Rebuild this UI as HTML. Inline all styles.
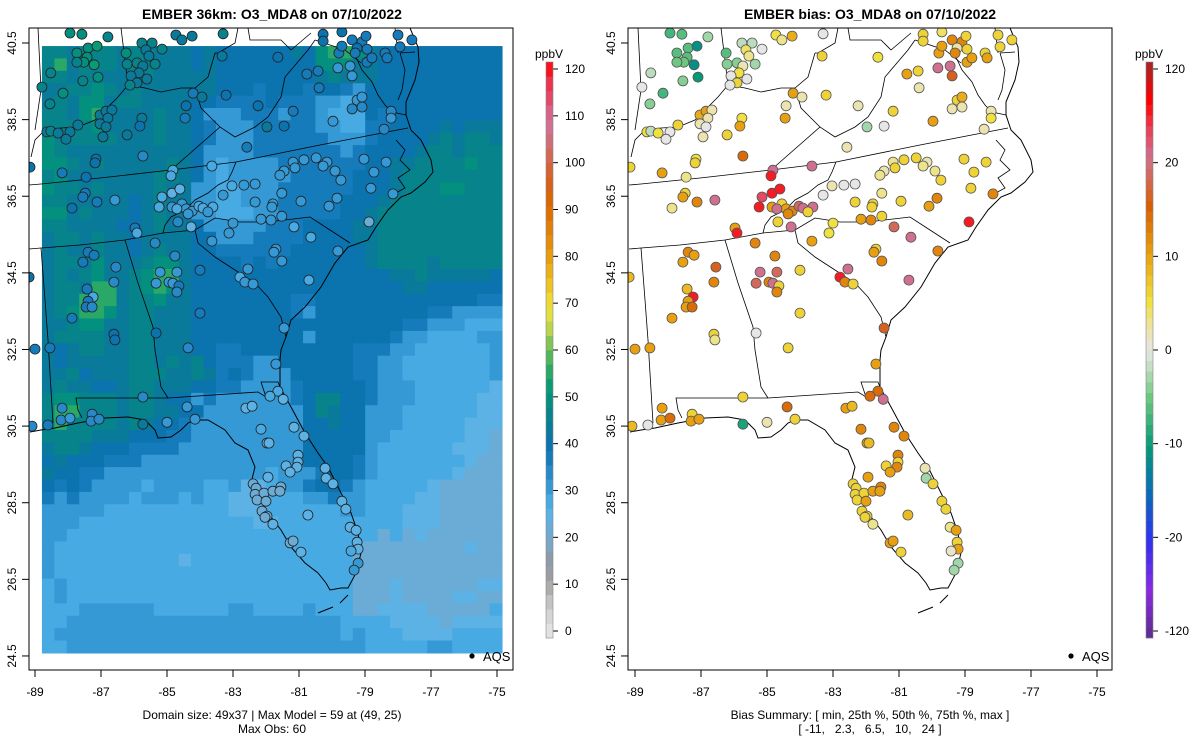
<!DOCTYPE html>
<html><head><meta charset="utf-8"><title>EMBER O3_MDA8 07/10/2022</title>
<style>
html,body{margin:0;padding:0;background:#fff;}
svg{display:block;font-family:"Liberation Sans",Arial,sans-serif;}
</style></head>
<body>
<svg id="fig" width="1200" height="750" viewBox="0 0 1200 750" xmlns="http://www.w3.org/2000/svg">
<defs>
<clipPath id="clipL"><rect x="29" y="28" width="484" height="642"/></clipPath>
<clipPath id="clipR"><rect x="628" y="28" width="484" height="642"/></clipPath>
</defs>
<text x="272" y="19" text-anchor="middle" font-size="14" font-weight="bold">EMBER 36km: O3_MDA8 on 07/10/2022</text>
<text x="870" y="19" text-anchor="middle" font-size="14" font-weight="bold">EMBER bias: O3_MDA8 on 07/10/2022</text>
<g id="left-raster" clip-path="url(#clipL)"></g>
<g id="left-map" clip-path="url(#clipL)"></g>
<g id="left-sites" clip-path="url(#clipL)"></g>
<g id="right-map" clip-path="url(#clipR)"></g>
<g id="right-sites" clip-path="url(#clipR)"></g>
<rect x="29" y="28" width="484" height="642" fill="none" stroke="#000" stroke-width="1"/>
<rect x="628" y="28" width="484" height="642" fill="none" stroke="#000" stroke-width="1"/>
<g id="axes"></g>
<g id="cbars"></g>
<circle cx="472" cy="656" r="2.6" fill="#000"/>
<text x="483" y="661" font-size="13">AQS</text>
<circle cx="1071" cy="656" r="2.6" fill="#000"/>
<text x="1082" y="661" font-size="13">AQS</text>
<text x="272" y="719" text-anchor="middle" font-size="12">Domain size: 49x37 | Max Model = 59 at (49, 25)</text>
<text x="272" y="733" text-anchor="middle" font-size="12">Max Obs: 60</text>
<text x="870" y="719" text-anchor="middle" font-size="12">Bias Summary: [ min, 25th %, 50th %, 75th %, max ]</text>
<text x="870" y="733" text-anchor="middle" font-size="12" xml:space="preserve">[ -11,   2.3,   6.5,   10,   24 ]</text>
</svg>
<script>
const X_TICKS=[-89,-87,-85,-83,-81,-79,-77,-75];
const Y_TICKS=[40.5,38.5,36.5,34.5,32.5,30.5,28.5,26.5,24.5];
const CB_TICKS=[0,10,20,30,40,50,60,70,80,90,100,110,120];
const BIAS_TICKS=[-120,-20,-10,0,10,20,120];
const LEVEL_KEYS="ghlmbBtTGLY";
const LEVEL_VALUES=[21,25,28,32,36,40,43,46,50,56,62];
const GRID_ROWS=[
"TTtTTTtTTtttBtBBBBBBtBGLLGtBBBBBBBBBB",
"TLtTTTtTTtttBtBBBBBBBBGGGttBBBBBBBBBB",
"TTtTtttTTtttttBBBBBBBBtTtttBBBBBBBBBB",
"ttTTGTtTttttttBBBbBBBbBBbmBBBBBBBBBBB",
"tTtGGtTTttttBBbbbbBbbbmmlmBBBBBBBBBBB",
"TTtGLttttTttBmmmbbbmbbmlllBbBBBBBBBBB",
"TTTTGttttTttBbmmmbbbbbmmllbbBBBBtBttt",
"GTTTTTtttTttBbmmmbbbbbbmmmbBBBBtTtTTt",
"GTttttttttttBmmmmbbbbbbbmbBBBBtTTtTTT",
"GGTtTtttttTtBmlmmmmbbbbbbbBBttTTTTGTT",
"TGtttttttTTtBmlmmmmmbbbbbBBBtTTTTTTTT",
"GTTtTttttTttmmllmmmbbbbbbBBBtTTTGGTTT",
"TTtttttBtTttmmllmmmbbbbbBBBtTTTTTTTTT",
"GGtTtttBtTttmmlllmmbbbbbBBtTTTTTTTTTT",
"TTttttBBtTttBmmmmmbbbBBBBttTTTTTTTTTT",
"tTTtTttBttttBBmmmbbbbBBBBttTTTTTTTTTT",
"tTttTttBtTttBBbbbbbbBBBBBBtTTTTTTTTTT",
"tTTtGtttTGGtBBBBbBbBBBBBBBtTTTTtTTTTT",
"tTtTGttTGLLtBBBBBBBBBBBBBBBBttTtttttB",
"tTTtLLtTGLGtBBBBBBBBBBBBBBBBBttBBBBBB",
"tTTLLLtTTGttBBBBBBBBbbBBBBBBBBBBBBBbb",
"tTGLLGtTTtttBBBBBBBBbmBBBBBBBBBbbmmmm",
"ttTGGttTTtttBBBBBBBBBBBBBBBBBbbmmmlll",
"tTTTTttTTtttBBBBBBBBBmBBBBBBbmmllllmm",
"tBtTTttTTtttBBbbBBBBBBBBBbbbmmllllllm",
"tBtttttTTtTtTBbbbmmBBBBBBbbmmlllllllm",
"ttTBtttTTTttTtbBbmmmBBBBBbbmmlllllllm",
"tTttBBtTTtttBBbbmmmmbBBBBBbmmmllllllh",
"TGGTTTtTTtBBmbmmmmmmbBTTBBbmmmlllllhh",
"TLLTTTtTTttBBmmmmmmmmBTtBBmmmllllllhh",
"TLTTTTtTtBBbmmmmmmmmmBBtBBmmmlllllhhh",
"TTTTtttBBBbbmmmmmmmmmBBBBBmmllllllhhg",
"tTTtBBBbbbbmmmmmmmmmmBBBBBmllllllhhhg",
"BtBBBbbbmmmmmmmmmmmmmBBBBbmlllllllhgg",
"tBBbbmmmmmmmmmmmmmlmmmbBBbmllllllhggg",
"BbBbmmmmlmmmmllmhhlmmbBBbmlllllhggggg",
"bmbmmmmlmmmlmllhhhlllmmbmmllllhhggggg",
"mmmmmllllllllllhhhllllllmmlllhhhggggg",
"mmmllllllllllllllhhllllllllllhhhggggg",
"mmlllllllllllllllllllllllllglghgggggg",
"mllllllllllllllllllllllllggggggggghgg",
"mllllllllllhlllllllllllllgggggggggggg",
"mllllllllllllllllllllllllgggggggggggg",
"lmlllllllllllllllllllllllggghggggggh",
"lmlllllllllllllllllllllllggghgggghhg",
"lllmmmmmmllllllmmllllmlllgghhhhgggggl",
"llmmmmmmmmmmmmmmmmmmmmmmllllhhhhghhhh",
"lmmmmmmmmmmmmmmmmmmmmmmmlmlllhhhhllll",
"llmmmmmmmmmmmmmmmmmmmmmmmmlllllmmllll"
];
const SITE_LON=[
-87.94,-87.58,-86.79,-87.73,-87.39,-87.12,-87.42,-87.52,-87.21,-87.73,
-87.09,-87.55,-88.52,-88.79,-88.15,-88.55,-85.76,-85.45,-85.64,-85.55,
-85.15,-86.24,-86.21,-85.91,-85.73,-85.36,-85.85,-86.09,-85.61,-85.91,
-86.12,-84.73,-84.55,-84.24,-83.30,-83.33,-84.21,-83.94,-83.21,-84.42,
-84.45,-85.76,-85.82,-87.03,-86.85,-86.67,-86.79,-87.03,-86.85,-87.70,
-88.64,-88.52,-88.30,-87.94,-88.06,-86.94,-86.21,-82.24,-81.97,-81.45,
-81.64,-81.18,-80.39,-80.76,-80.42,-79.82,-79.39,-79.45,-79.97,-79.24,
-79.09,-79.39,-79.09,-78.21,-78.21,-78.42,-80.27,-79.70,-80.27,-79.79,
-79.70,-79.39,-79.09,-79.24,-79.30,-78.97,-78.94,-78.94,-78.79,-78.39,
-78.33,-78.00,-77.94,-77.58,-85.73,-87.15,-87.18,-88.18,-87.45,-89.15,
-84.82,-84.88,-83.64,-82.58,-84.85,-84.61,-85.15,-85.24,-84.85,-84.55,
-84.42,-84.24,-84.03,-83.91,-83.61,-83.76,-84.36,-84.70,-84.67,-84.27,
-85.97,-85.91,-85.36,-83.03,-82.67,-82.33,-83.30,-87.48,-87.55,-87.12,
-86.58,-87.88,-81.18,-80.85,-80.48,-80.15,-80.27,-79.91,-79.73,-79.03,
-78.36,-78.73,-78.82,-78.15,-81.12,-81.45,-81.58,-81.52,-80.94,-81.79,
-81.82,-82.33,-79.85,-80.09,-81.52,-82.15,-81.85,-78.88,-83.00,-83.12,
-83.64,-81.15,-80.64,-79.82,-81.70,-81.76,-81.52,-80.70,-82.55,-82.79,
-82.64,-82.39,-81.45,-84.00,-84.00,-84.76,-84.70,-85.21,-85.33,-84.94,
-84.82,-84.64,-84.70,-85.33,-87.39,-87.21,-87.55,-86.55,-86.61,-87.42,
-87.24,-87.39,-87.45,-87.27,-87.88,-86.61,-86.58,-89.18,-89.00,-88.55,
-84.36,-81.70,-81.64,-81.88,-81.48,-82.61,-82.42,-85.73,-84.39,-88.18,
-88.21,-87.94,-87.27,-87.30,-87.06,-89.09,-88.61,-85.73,-85.00,-84.15,
-82.15,-81.15,-80.85,-81.97,-81.91,-81.03,-81.03,-81.06,-81.39,-81.27,
-81.94,-80.21,-80.18,-79.97,-82.39,-82.30,-82.33,-82.06,-81.79,-81.55,
-81.58,-82.27,-82.00,-79.70,-79.58,-82.12,-81.97,-82.03,-81.79,-80.73,
-79.45,-79.27,-79.24,-79.21,-79.42,-79.21,-79.33,-81.27,-81.18,-80.94];
const SITE_LAT=[
40.76,40.73,40.66,40.24,40.37,40.42,40.13,40.00,39.93,40.00,
39.61,39.51,39.72,39.35,39.19,38.91,40.50,40.50,40.32,40.16,
40.34,40.24,39.95,39.98,39.90,39.95,39.72,39.64,39.56,39.46,
39.40,40.71,40.58,40.68,40.74,40.16,39.19,39.09,39.14,38.86,
38.54,38.54,38.33,38.62,38.72,38.75,38.54,38.39,38.31,38.36,
38.18,38.20,38.15,38.18,37.99,38.05,38.10,38.86,38.31,38.33,
40.13,38.72,39.33,39.69,39.77,39.85,39.64,39.90,38.46,39.01,
39.09,38.78,38.83,38.72,38.54,38.25,40.73,40.79,40.55,40.24,
40.42,40.58,40.53,40.37,40.24,40.68,40.34,40.00,40.11,40.24,
40.11,40.71,40.40,40.58,37.55,37.47,37.37,37.11,37.00,37.26,
37.18,37.03,37.29,37.78,36.58,36.69,36.48,36.22,36.22,36.30,
36.17,36.11,36.24,36.19,36.22,36.09,36.04,36.17,35.83,35.70,
35.67,35.54,35.28,36.77,36.79,36.82,36.53,36.58,36.48,36.35,
36.40,36.19,37.39,37.45,37.50,37.39,37.29,37.16,36.92,37.47,
37.39,37.13,36.71,36.56,37.24,37.16,37.05,36.58,36.37,36.30,
36.22,36.35,36.45,36.24,35.98,35.90,35.88,35.83,35.80,35.54,
35.33,35.70,35.43,35.07,35.12,35.04,34.81,34.31,34.60,34.39,
34.26,34.21,33.06,34.57,33.45,34.94,34.52,34.52,34.23,34.26,
34.23,34.16,34.00,32.93,35.04,34.96,34.78,34.65,34.26,34.08,
33.87,33.76,33.61,33.61,33.32,32.90,32.75,34.39,32.51,32.54,
32.54,32.12,31.41,31.28,31.20,30.97,31.02,31.26,31.00,30.97,
30.66,30.71,30.81,30.63,30.68,30.50,30.53,30.55,30.60,30.68,
30.42,30.47,30.24,30.06,30.06,29.74,29.56,29.43,29.46,29.30,
29.17,29.40,29.14,28.99,28.99,28.88,28.72,28.75,28.80,28.91,
28.80,28.57,28.54,28.54,28.33,28.28,28.15,28.12,27.94,28.18,
27.86,27.78,27.47,27.29,27.24,26.92,26.74,27.45,27.50,27.21];
const SITE_OBS=[
50,50,46,48,48,52,48,48,52,47,
50,46,45,45,50,46,45,45,44,44,
45,48,46,46,44,46,42,44,44,42,
45,44,44,42,45,42,38,42,40,40,
38,42,40,42,42,44,44,44,44,42,
42,45,42,44,44,42,42,40,42,40,
40,38,38,38,38,30,32,30,32,32,
32,34,34,34,32,34,40,40,40,38,
38,36,36,40,36,38,38,36,36,36,
36,36,36,36,34,40,40,38,40,40,
28,28,28,36,26,26,28,28,32,32,
32,32,28,28,28,32,30,28,34,26,
36,28,34,28,30,30,30,36,36,36,
32,40,30,30,30,30,30,30,30,32,
32,32,32,30,30,30,30,30,30,30,
30,30,30,30,30,30,30,22,30,30,
32,28,28,30,32,32,32,28,30,28,
30,32,32,36,36,34,32,30,32,32,
30,36,34,40,36,36,36,34,34,38,
28,36,36,34,38,40,40,40,36,36,
34,30,28,28,24,26,26,34,30,34,
34,32,34,34,34,34,38,44,32,30,
28,26,26,26,26,24,26,24,26,24,
24,24,26,24,22,22,22,22,22,22,
22,22,22,24,24,22,22,22,24,24,
26,24,26,24,28,30,30,22,22,24];
const SITE_BIAS=[
-7,-6,-3,-6,-6,-11,-6,-5,-11,-5,
-10,-4,-2,0,-7,-4,-2,-2,4,3,
0,-6,-4,-4,2,-3,5,0,0,6,
0,5,3,9,0,6,10,2,6,2,
10,5,10,9,10,2,2,2,0,6,
5,-2,5,0,0,2,6,2,-3,0,
5,6,2,10,6,20,16,20,10,6,
9,2,2,2,5,2,6,4,6,10,
10,12,12,2,12,6,6,10,10,6,
10,6,6,6,14,5,6,10,3,6,
20,24,20,2,24,24,22,24,10,6,
10,12,18,20,20,6,12,20,6,20,
10,24,12,2,0,0,0,6,10,12,
20,3,3,6,6,2,3,3,6,6,
6,6,6,12,6,2,3,3,6,6,
6,6,12,10,6,10,12,24,5,5,
10,18,20,12,6,10,12,20,20,24,
12,6,16,6,6,12,18,20,18,12,
20,6,12,0,12,10,10,16,12,8,
24,10,10,14,10,6,3,8,10,10,
6,10,14,14,20,10,8,6,14,10,
10,14,6,10,10,8,0,-9,2,6,
12,12,12,10,8,12,6,12,6,10,
10,2,-3,6,6,6,6,6,10,12,
10,6,10,6,6,6,6,6,3,8,
3,10,6,10,1,-3,-3,10,10,6];

const NS="http://www.w3.org/2000/svg";
const GRID_LON0=-88.79, GRID_LON1=-74.85, GRID_LAT0=24.58, GRID_LAT1=40.42;
function xL(lon){return 35+(lon+89)*33;}
function xR(lon){return 635+(lon+89)*33;}
function yS(lat){return 43+(40.5-lat)*38.31;}

function hex(c){return [parseInt(c.slice(1,3),16),parseInt(c.slice(3,5),16),parseInt(c.slice(5,7),16)];}
function interp(stops,p){
  if(p<=stops[0][0]) return stops[0][1];
  for(let i=1;i<stops.length;i++){
    if(p<=stops[i][0]){
      const a=stops[i-1],b=stops[i],t=(p-a[0])/(b[0]-a[0]);
      const ca=hex(a[1]),cb=hex(b[1]);
      return "rgb("+ca.map((v,k)=>Math.round(v+(cb[k]-v)*t)).join(",")+")";
    }
  }
  return stops[stops.length-1][1];
}
const OBS_STOPS=[[0,"#e8e8e8"],[6,"#cfcfcf"],[12,"#a0a0a0"],[16,"#8e9aa4"],[20,"#7aa6c8"],[24,"#62b0e0"],[27,"#56b4ea"],[30,"#3aa0dc"],[34,"#2a8cca"],[38,"#1278b8"],[41,"#0a72ac"],[44,"#0a7c98"],[47,"#068688"],[50,"#04927c"],[54,"#0ea070"],[57,"#44b060"],[60,"#60bc5a"],[63,"#a6cc50"],[66,"#d2dc48"],[69,"#f0e23c"],[72,"#f0cc28"],[76,"#ecb418"],[80,"#e69a0a"],[85,"#e2820a"],[90,"#dc6800"],[95,"#d66018"],[100,"#d2684e"],[105,"#ce7088"],[108,"#d47098"],[112,"#e04c6c"],[116,"#ec304a"],[120,"#ff0000"]];
function obsColor(v){return interp(OBS_STOPS,v);}
const BIAS_STOPS=[[0,"#5b2d8c"],[0.5,"#8a2ae0"],[1,"#3030f0"],[1.5,"#0a6ab8"],[2,"#049a78"],[2.5,"#6cc87e"],[2.85,"#c8e0c8"],[3,"#e6e6e6"],[3.2,"#ece4b0"],[3.5,"#f0e040"],[4,"#e8a010"],[4.5,"#d85e04"],[5,"#d07090"],[5.3,"#e84058"],[5.6,"#ff0000"],[6,"#a02828"]];
function biasPos(v){
  if(v<=-20) return Math.max(0,(v+120)/100);
  if(v<=20) return 3+v/10;
  return 5+(v-20)/100;
}
function biasSitePos(v){ if(v>20) return Math.min(6,5+(v-20)*0.12); return biasPos(v); }
function biasColor(v){return interp(BIAS_STOPS,biasSitePos(v));}

const rasterG=document.getElementById("left-raster");
const nCols=37,nRows=GRID_ROWS.length;
const cw=(xL(GRID_LON1)-xL(GRID_LON0))/nCols, rh=(yS(GRID_LAT0)-yS(GRID_LAT1))/nRows;
GRID_ROWS.forEach((row,r)=>{
  for(let c=0;c<nCols;c++){
    const ch=row[Math.min(c,row.length-1)];
    const val=LEVEL_VALUES[Math.max(0,LEVEL_KEYS.indexOf(ch))];
    const el=document.createElementNS(NS,"rect");
    
    
    el.setAttribute("x",(xL(GRID_LON0)+c*cw).toFixed(2));
    el.setAttribute("y",(yS(GRID_LAT1)+r*rh).toFixed(2));
    el.setAttribute("width",(cw+0.6).toFixed(2));
    el.setAttribute("height",(rh+0.6).toFixed(2));
    el.setAttribute("fill",obsColor(Math.floor(val/3)*3+1.5));
    rasterG.appendChild(el);
  }
});

const MAP_LINES=[
 {w:1,p:[[410,28],[418,47],[419,62],[415,80],[406,102],[406,115],[411,130],[421,140],[431,160],[433,172],[425,182],[411,193],[401,197],[388,210],[376,227],[368,240],[348,247],[335,263],[321,287],[305,307],[291,320],[286,337],[281,350],[280,360],[280,387],[291,407],[305,433],[318,453],[328,467],[341,493],[351,513],[358,533],[361,553],[356,573],[348,588],[341,588],[330,590],[326,583],[318,573],[305,563],[291,547],[281,530],[268,513],[258,497],[251,483],[255,467],[248,450],[235,443],[225,430],[208,420],[195,420],[188,423],[181,430],[171,437],[158,438],[155,430],[145,420],[128,417],[105,418],[78,423],[55,428],[41,430],[30,432]]},
 {w:0.8,p:[[355,55],[362,70],[372,82],[378,95],[385,105],[392,112],[406,115]]},
 {w:0.8,p:[[400,53],[405,70],[402,90],[398,100]]},
 {w:0.8,p:[[396,140],[405,150],[400,160],[410,170],[398,178],[405,188],[392,195]]},
 {w:1,p:[[348,595],[340,603]]},{w:1,p:[[333,607],[318,613]]},
 {w:0.8,p:[[408,128],[320,145],[236,162],[171,170],[100,178],[41,184],[29,185]]},
 {w:0.8,p:[[236,162],[232,172],[228,180],[218,185],[208,193],[195,200],[185,210],[171,217],[165,225],[163,233]]},
 {w:0.8,p:[[163,233],[125,240],[80,245],[41,248],[29,249]]},
 {w:0.8,p:[[350,243],[330,230],[310,217],[268,222],[240,222],[215,218],[195,230],[163,233]]},
 {w:0.8,p:[[195,230],[198,243],[215,257],[235,270],[255,283],[268,297],[281,317],[286,337]]},
 {w:0.8,p:[[125,240],[138,283],[153,327],[155,350],[161,387],[168,398]]},
 {w:0.8,p:[[168,398],[258,392],[266,397],[261,382],[278,382],[280,387]]},
 {w:0.8,p:[[168,398],[76,398],[78,410],[82,418]]},
 {w:0.8,p:[[41,248],[45,300],[48,340],[53,423]]},
 {w:0.8,p:[[215,53],[208,77],[195,88],[181,88],[161,92],[145,88],[128,85],[118,97],[108,107],[95,120],[78,127],[61,128],[45,130],[35,140],[31,157]]},
 {w:0.8,p:[[121,28],[128,85]]},
 {w:0.8,p:[[38,28],[41,90],[35,130]]},
 {w:0.8,p:[[195,88],[201,108],[220,127],[235,137],[255,127],[268,117],[281,97],[285,77],[308,50],[315,40]]},
 {w:0.8,p:[[220,127],[171,170]]},
 {w:0.8,p:[[238,28],[235,43],[218,53],[215,53]]},
 {w:0.8,p:[[248,28],[250,40],[281,40],[291,50],[311,33]]},
 {w:0.8,p:[[315,40],[345,50],[361,63]]},
 {w:0.8,p:[[400,53],[415,52]]},
 {w:0.8,p:[[395,28],[398,53]]}
];
function drawMap(gid,dx){
  const g=document.getElementById(gid);
  MAP_LINES.forEach(l=>{
    const el=document.createElementNS(NS,"polyline");
    
    
    el.setAttribute("points",l.p.map(q=>(q[0]+dx)+","+q[1]).join(" "));
    el.setAttribute("fill","none");
    el.setAttribute("stroke","#000");
    el.setAttribute("stroke-width",l.w);
    g.appendChild(el);
  });
}
drawMap("left-map",0);
drawMap("right-map",600);

const gl=document.getElementById("left-sites"), gr=document.getElementById("right-sites");
for(let i=0;i<SITE_LON.length;i++){
  const a=document.createElementNS(NS,"circle");
  
  
  a.setAttribute("cx",xL(SITE_LON[i]).toFixed(1));
  a.setAttribute("cy",yS(SITE_LAT[i]).toFixed(1));
  a.setAttribute("r","5");
  a.setAttribute("fill",obsColor(Math.floor(SITE_OBS[i]/3)*3+1.5));
  a.setAttribute("stroke","#222");
  a.setAttribute("stroke-width","0.8");
  gl.appendChild(a);
  const b=document.createElementNS(NS,"circle");
  
  
  b.setAttribute("cx",xR(SITE_LON[i]).toFixed(1));
  b.setAttribute("cy",yS(SITE_LAT[i]).toFixed(1));
  b.setAttribute("r","5");
  b.setAttribute("fill",biasColor(SITE_BIAS[i]));
  b.setAttribute("stroke","#555");
  b.setAttribute("stroke-width","0.8");
  gr.appendChild(b);
}

const ax=document.getElementById("axes");
function line(x1,y1,x2,y2,name){
  const el=document.createElementNS(NS,"line");
  
  
  el.setAttribute("x1",x1);el.setAttribute("y1",y1);el.setAttribute("x2",x2);el.setAttribute("y2",y2);
  el.setAttribute("stroke","#000");el.setAttribute("stroke-width","1");
  ax.appendChild(el);
}
function text(x,y,s,name,anchor,rot){
  const el=document.createElementNS(NS,"text");
  
  
  el.setAttribute("x",x);el.setAttribute("y",y);
  el.setAttribute("font-size","12");
  el.setAttribute("text-anchor",anchor||"middle");
  if(rot) el.setAttribute("transform","rotate(-90 "+x+" "+y+")");
  el.textContent=s;
  ax.appendChild(el);
  return el;
}
X_TICKS.forEach(v=>{
  [xL(v),xR(v)].forEach(x=>{
    line(x,670,x,677,"x-axis-tick");
    text(x,696,String(v),"x-tick-label");
  });
});
Y_TICKS.forEach(v=>{
  const y=yS(v);
  line(29,y,22,y,"y-axis-tick");
  text(16,y,v.toFixed(1),"y-tick-label","middle",true);
  line(628,y,621,y,"y-axis-tick");
  text(615,y,v.toFixed(1),"y-tick-label","middle",true);
});

const cb=document.getElementById("cbars");
function cbRect(x,y,w,h,fill,name){
  const el=document.createElementNS(NS,"rect");
  
  
  el.setAttribute("x",x);el.setAttribute("y",y.toFixed(2));el.setAttribute("width",w);el.setAttribute("height",h.toFixed(2));
  el.setAttribute("fill",fill);
  cb.appendChild(el);
}
function cbTick(x,y,label,name){
  const t=document.createElementNS(NS,"line");
  
  
  t.setAttribute("x1",x);t.setAttribute("x2",x+5);t.setAttribute("y1",y);t.setAttribute("y2",y);
  t.setAttribute("stroke","#000");
  cb.appendChild(t);
  const s=document.createElementNS(NS,"text");
  
  
  s.setAttribute("x",x+12);s.setAttribute("y",y+4);s.setAttribute("font-size","12");
  s.textContent=label;
  cb.appendChild(s);
}
const CB_TOP=62,CB_BOT=638,CB_Y0=631,CB_Y120=69;
const nb=40,bh=(CB_BOT-CB_TOP)/nb;
for(let i=0;i<nb;i++) cbRect(546,CB_BOT-(i+1)*bh,7,bh+0.3,obsColor(i*3+1.5),"obs-colorbar-bin");
CB_TICKS.forEach(v=>cbTick(553,CB_Y0-(CB_Y0-CB_Y120)*v/120,String(v),"obs-colorbar"));
const nbb=54,bbh=(CB_BOT-CB_TOP)/nbb;
for(let i=0;i<nbb;i++) cbRect(1146,CB_BOT-(i+1)*bbh,7,bbh+0.3,interp(BIAS_STOPS,(i+0.5)/nbb*6),"bias-colorbar-bin");
BIAS_TICKS.forEach(v=>cbTick(1153,CB_Y0-(CB_Y0-CB_Y120)*biasPos(v)/6,String(v),"bias-colorbar"));
[[549,"obs-colorbar-title"],[1149,"bias-colorbar-title"]].forEach(([x,n])=>{
  const s=document.createElementNS(NS,"text");
  
  
  s.setAttribute("x",x);s.setAttribute("y",58);s.setAttribute("font-size","12");s.setAttribute("text-anchor","middle");
  s.textContent="ppbV";
  cb.appendChild(s);
});
[[546,"obs-colorbar-border"],[1146,"bias-colorbar-border"]].forEach(([x,n])=>{
  const el=document.createElementNS(NS,"rect");
  
  
  el.setAttribute("x",x);el.setAttribute("y",CB_TOP);el.setAttribute("width",7);el.setAttribute("height",CB_BOT-CB_TOP);
  el.setAttribute("fill","none");el.setAttribute("stroke","#888");el.setAttribute("stroke-width","0.6");
  cb.appendChild(el);
});
</script>
</body></html>
